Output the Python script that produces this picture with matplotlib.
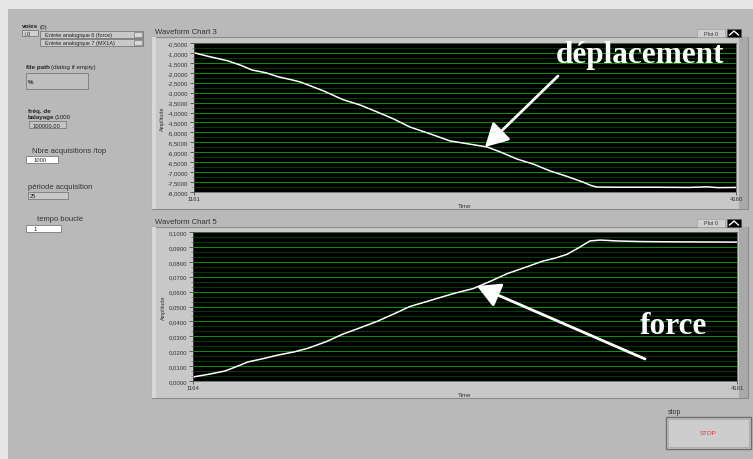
import numpy as np
import matplotlib
matplotlib.use("Agg")
import matplotlib.pyplot as plt
from matplotlib.patches import Rectangle
from matplotlib.ticker import FixedLocator, FuncFormatter, MultipleLocator

W, H = 753, 460

# chart 3 : déplacement (samples, amplitude)
depl_t = [1161, 1230, 1349, 1420, 1482, 1560, 1626, 1700, 1748, 1792, 1880, 1985,
          2080, 2174, 2260, 2356, 2470, 2578, 2680, 2782, 2860, 2948, 3040, 3131,
          3220, 3313, 3360, 3391, 3500, 3700, 3900, 4000, 4060, 4160]
depl_v = [-0.99, -1.15, -1.40, -1.62, -1.86, -2.00, -2.20, -2.35, -2.46, -2.61, -2.92, -3.35,
          -3.62, -3.97, -4.30, -4.73, -5.08, -5.43, -5.58, -5.73, -6.00, -6.34, -6.60, -6.94,
          -7.20, -7.50, -7.68, -7.75, -7.76, -7.76, -7.77, -7.74, -7.78, -7.77]

# chart 5 : force
force_t = [1164, 1250, 1340, 1400, 1467, 1550, 1632, 1720, 1798, 1900, 1990, 2080,
           2178, 2270, 2359, 2470, 2580, 2640, 2707, 2800, 2894, 3000, 3092, 3160,
           3224, 3290, 3351, 3406, 3500, 3626, 3800, 4000, 4161]
force_v = [0.0027, 0.0045, 0.0067, 0.0095, 0.0128, 0.0150, 0.0174, 0.0195, 0.0220, 0.0265, 0.0315, 0.0355,
           0.0400, 0.0450, 0.0500, 0.0540, 0.0580, 0.0600, 0.0620, 0.0668, 0.0720, 0.0765, 0.0805, 0.0825,
           0.0850, 0.0895, 0.0940, 0.0946, 0.0940, 0.0936, 0.0934, 0.0933, 0.0932]

depl_ticks = np.arange(-8.0, -0.49, 0.5)
force_ticks = np.arange(0.0, 0.1001, 0.01)

PANEL = "#b9b9b9"
FRAME = "#c8c8c8"
GRID_MAJ = "#089008"
GRID_MIN = "#033a03"


def px(x, y, w, h):
    return [x / W, 1 - (y + h) / H, w / W, h / H]


fig = plt.figure(figsize=(W / 100, H / 100), dpi=100, facecolor=PANEL)
plt.rcParams["font.family"] = ["Liberation Sans", "DejaVu Sans"]

# ---- background panel (pixel coords) ----
bg = fig.add_axes([0, 0, 1, 1], zorder=-5)
bg.set_xlim(0, W)
bg.set_ylim(H, 0)
bg.axis("off")
bg.add_patch(Rectangle((0, 0), W, 10, color="#e6e6e6", lw=0))
bg.add_patch(Rectangle((0, 0), 8, H, color="#e6e6e6", lw=0))


def rect(x, y, w, h, fc, ec="#7a7a7a", lw=0.6):
    bg.add_patch(Rectangle((x, y), w, h, facecolor=fc, edgecolor=ec, lw=lw))


def txt(x, y, s, size=5, weight="normal", color="#222222", ha="left", **kw):
    bg.text(x, y, s, fontsize=size, fontweight=weight, color=color, ha=ha, va="center", **kw)


# chart frames
for (y0, y1, title, plot_y) in [(38, 210, "Waveform Chart 3", 34), (228, 399, "Waveform Chart 5", 224)]:
    rect(152, y0, 596, y1 - y0, FRAME, ec="#8c8c8c", lw=0.8)
    rect(152, y0, 4, y1 - y0, "#d8d8d8", ec="none")
    rect(739, y0, 9, y1 - y0, "#a9a9a9", ec="none")
    txt(155, plot_y - 1, title, size=5.5, color="#333333")
    rect(697, plot_y - 4, 28, 8, "#cfcfcf", ec="#9a9a9a", lw=0.4)
    txt(711, plot_y, "Plot 0", size=4, color="#333333", ha="center")
    rect(727, plot_y - 4, 14, 8, "black", ec="#555555", lw=0.4)
    bg.plot([729.5, 734, 738.5], [plot_y + 2, plot_y - 2, plot_y + 2], color="white", lw=1.0)

# left controls
txt(22, 27, "voies", size=4.5, weight="bold")
txt(40, 27, "(0)", size=4.5)
rect(22, 31, 16, 6, "#d0d0d0")
txt(27, 34, "0", size=4)
txt(23, 34, "\u2195", size=4)
for yy, lab in [(32, "Entrée analogique 6 (force)"), (40, "Entrée analogique 7 (MX1A)")]:
    rect(40, yy, 103, 7, "#c9c9c9")
    txt(45, yy + 3.5, lab, size=4)
    rect(134, yy + 1, 8, 5, "#d9d9d9", ec="#666666", lw=0.4)
txt(26, 68, "file path", size=4.5, weight="bold")
txt(51, 68, "(dialog if empty)", size=4.5)
rect(26, 74, 62, 16, "#bfbfbf")
txt(28, 82, "%", size=4.5, weight="bold")
txt(28, 112, "fréq. de", size=4.5, weight="bold")
txt(28, 117.5, "balayage", size=4.5, weight="bold")
txt(55, 117.5, "(1000", size=4.5)
rect(29, 122, 37, 7, "#c4c4c4")
txt(33, 125.5, "100000,00", size=4.2)
txt(32, 152, "Nbre acquisitions /top", size=5.5, color="#333333")
rect(26, 157, 32, 7, "white")
txt(34, 160.5, "1000", size=4.2)
txt(28, 188, "période acquisition", size=5.5, color="#333333")
rect(28, 193, 40, 7, "#c9c9c9")
txt(30, 196.5, "25", size=4.2)
txt(37, 220, "tempo boucle", size=5.5, color="#333333")
rect(26, 226, 35, 7, "white")
txt(34, 229.5, "1", size=4.2)

# stop button
txt(668, 413, "stop", size=5, color="#333333")
rect(666, 418, 85, 32, "#c6c6c6", ec="#6e6e6e", lw=1.0)
rect(668, 420, 81, 28, "#cdcdcd", ec="#9c9c9c", lw=0.4)
txt(708.5, 434, "STOP", size=4.5, color="#e03030", ha="center")


# ---- charts ----
def style_chart(ax, xticks, ylim, yticks, minor_step, ndec=4):
    ax.set_facecolor("black")
    ax.set_xlim(xticks[0], xticks[-1])
    ax.set_ylim(*ylim)
    ax.yaxis.set_major_locator(FixedLocator(yticks))
    ax.yaxis.set_minor_locator(MultipleLocator(minor_step))
    ax.yaxis.set_major_formatter(FuncFormatter(lambda v, p: f"{v:.{ndec}f}".replace(".", ",")))
    ax.set_xticks(xticks)
    ax.set_xticklabels([str(t) for t in xticks])
    ax.tick_params(axis="y", which="major", labelsize=4.3, length=3, width=0.5,
                   colors="#333333", pad=1)
    ax.tick_params(axis="y", which="minor", length=1.5, width=0.4, colors="#555555")
    ax.tick_params(axis="x", labelsize=4.3, length=2, width=0.5, colors="#333333", pad=1)
    ax.grid(True, axis="y", which="minor", color=GRID_MIN, lw=0.75)
    ax.grid(True, axis="y", which="major", color=GRID_MAJ, lw=0.75)
    ax.set_axisbelow(True)
    for s in ax.spines.values():
        s.set_color("#555555")
        s.set_linewidth(0.5)
    ax.set_ylabel("Amplitude", fontsize=4, color="#333333", labelpad=2)
    ax.set_xlabel("Time", fontsize=4.5, color="#333333", labelpad=1)


ax1 = fig.add_axes(px(194, 44, 542, 149))
ax1.plot(depl_t, depl_v, color="white", lw=1.1)
style_chart(ax1, [1161, 4160], (-8.0, -0.5), depl_ticks, 0.25)

ax2 = fig.add_axes(px(193, 233, 544, 149))
ax2.plot(force_t, force_v, color="white", lw=1.1)
style_chart(ax2, [1164, 4161], (0.0, 0.1), force_ticks, 0.01 / 3)

# ---- annotations on top ----
fg = fig.add_axes([0, 0, 1, 1], zorder=10)
fg.set_xlim(0, W)
fg.set_ylim(H, 0)
fg.axis("off")
fg.patch.set_alpha(0)
fg.text(640, 56, "déplacement", fontsize=22.5, fontweight="bold", color="white",
        family=["Liberation Serif", "DejaVu Serif"], ha="center", va="center")
fg.text(673, 327, "force", fontsize=22.5, fontweight="bold", color="white",
        family=["Liberation Serif", "DejaVu Serif"], ha="center", va="center")
arrow = dict(arrowstyle="-|>,head_length=1.0,head_width=0.55", color="white", lw=2.0,
             mutation_scale=14, shrinkA=0, shrinkB=0)
fg.annotate("", xy=(485, 148), xytext=(558, 77), arrowprops=arrow)
fg.annotate("", xy=(477, 287), xytext=(645, 360), arrowprops=arrow)

fig.savefig("out.png", dpi=100, facecolor=PANEL)
